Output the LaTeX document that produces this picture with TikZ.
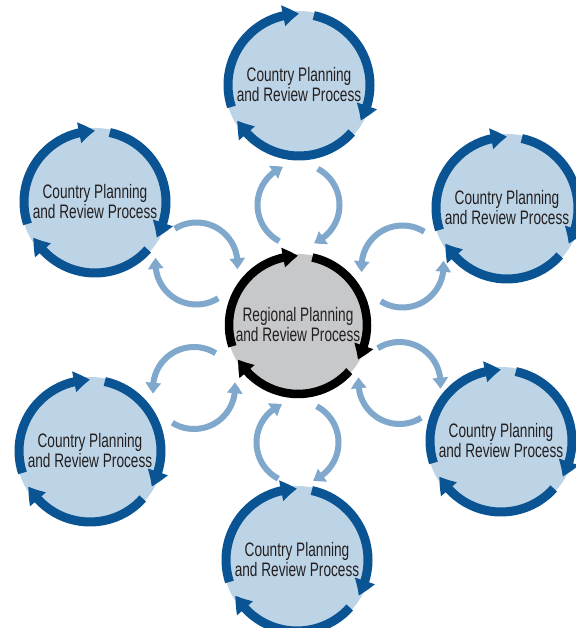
\documentclass[tikz,border=0pt]{standalone}
\usepackage{fontspec}
\setmainfont[FakeStretch=0.7]{Liberation Sans}
\usepackage{xcolor}
\usepackage{tikz}
\usetikzlibrary{positioning,calc,arrows.meta,bending}

\definecolor{ringblue}{HTML}{0A5494}
\definecolor{fillblue}{HTML}{BDD4E6}
\definecolor{loopblue}{HTML}{7FA8CC}
\definecolor{fillgray}{HTML}{C7C8CA}
\definecolor{textdark}{HTML}{231F20}

\begin{document}
\begin{tikzpicture}[x=1pt, y=1pt,
    country/.style={circle, fill=fillblue, minimum size=148pt, inner sep=0pt, align=center, text=textdark, font=\fontsize{19.5}{20}\selectfont},
    region/.style={country, fill=fillgray, minimum size=142pt},
    ring/.style={line width=9pt, draw=ringblue, -{Triangle[length=16pt,width=20pt,bend]}},
    regring/.style={line width=8.5pt, draw=black, -{Triangle[length=15pt,width=19pt,bend]}},
    loop/.style={line width=6pt, draw=loopblue, -{Triangle[length=11pt,width=15pt,bend]}}
]
    \useasboundingbox (0,0) rectangle (575,628);

    \node [region] (reg) at (298,303) {Regional Planning\\and Review Process};

    % Country circles
    \foreach \n/\x/\y in {c1/299/543, c2/507/420, c3/501/187, c4/297/68, c5/90/177, c6/95/426} {
        \node [country] (\n) at (\x,\y) {Country Planning\\and Review Process};
        \foreach \s in {78,-42,-162} {
            \draw [ring] ([shift={(\s:71)}]\n.center) arc[start angle=\s, end angle=\s-108, radius=71];
        }
    }

    % Regional ring
    \foreach \s in {78,-42,-162} {
        \draw [regring] ([shift={(\s:69)}]reg.center) arc[start angle=\s, end angle=\s-108, radius=69];
    }

    % Loops between region and countries (\d=1 clockwise, \d=-1 counter-clockwise)
    \foreach \n/\a/\d in {c1/90/1, c2/30/-1, c3/-30/1, c4/-90/1, c5/-150/-1, c6/150/1} {
        \coordinate (m\n) at ($(reg)!0.5!(\n)$);
        \draw [loop] ([shift={(\a+\d*152:41)}]m\n) arc[start angle=\a+\d*152, end angle=\a+\d*22, radius=41];
        \draw [loop] ([shift={(\a-\d*28:41)}]m\n) arc[start angle=\a-\d*28, end angle=\a-\d*158, radius=41];
    }
\end{tikzpicture}
\end{document}
